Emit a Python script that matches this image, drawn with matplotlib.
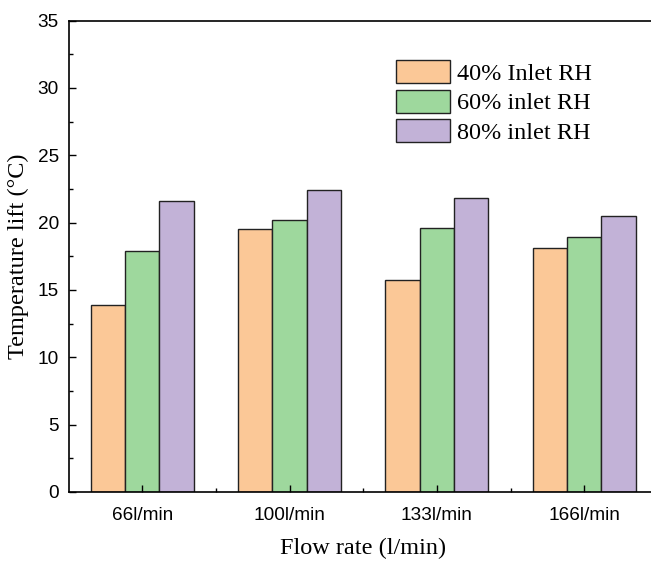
import numpy as np
import matplotlib.pyplot as plt
from matplotlib.ticker import MultipleLocator

# flow rates on the x axis
flow_labels = ["66l/min", "100l/min", "133l/min", "166l/min"]

# temperature lift (deg C) for each inlet RH
rh40 = [13.9, 19.5, 15.7, 18.1]
rh60 = [17.9, 20.2, 19.6, 18.9]
rh80 = [21.6, 22.4, 21.8, 20.5]

series_names = ["40% Inlet RH", "60% inlet RH", "80% inlet RH"]
colors = ["#FBC897", "#9ED89D", "#C2B2D7"]

serif = ["Liberation Serif", "DejaVu Serif"]
plt.rcParams["font.family"] = ["Liberation Sans", "DejaVu Sans"]

fig = plt.figure(figsize=(6.51, 5.61), dpi=100)
ax = fig.add_axes([68.5 / 651, 1 - 492 / 561, (658 - 68.5) / 651, (492 - 20.5) / 561])

x = np.arange(len(flow_labels))
w = 0.233
for i, (vals, name, c) in enumerate(zip([rh40, rh60, rh80], series_names, colors)):
    ax.bar(x + (i - 1) * w, vals, width=w, color=c, edgecolor="#222222",
           linewidth=1.0, label=name)

ax.set_xlim(-0.5, 3.5)
ax.set_ylim(0, 35)
ax.set_xticks(x)
ax.set_xticklabels(flow_labels)
ax.set_xticks(x[:-1] + 0.5, minor=True)
ax.yaxis.set_major_locator(MultipleLocator(5))
ax.yaxis.set_minor_locator(MultipleLocator(2.5))

ax.tick_params(which="both", direction="in", width=1.0, labelsize=13.7)
ax.tick_params(which="major", length=5)
ax.tick_params(which="minor", length=3)
ax.tick_params(axis="y", which="major", pad=7)
ax.tick_params(axis="x", which="major", pad=10.5)
ax.tick_params(axis="x", which="both", top=False)
ax.spines["right"].set_visible(False)
for s in ["left", "bottom", "top"]:
    ax.spines[s].set_linewidth(1.2)

ax.set_xlabel("Flow rate (l/min)", family=serif, fontsize=17.5, labelpad=10)
ax.set_ylabel("Temperature lift (\u00b0C)", family=serif, fontsize=17.5, labelpad=6)

ax.legend(loc="upper left", bbox_to_anchor=(0.556, 0.916), frameon=False,
          prop={"family": serif, "size": 17.5}, handlelength=2.2, handleheight=1.07,
          labelspacing=0.2, handletextpad=0.3, borderaxespad=0, borderpad=0)

fig.savefig("out.png", dpi=100)
